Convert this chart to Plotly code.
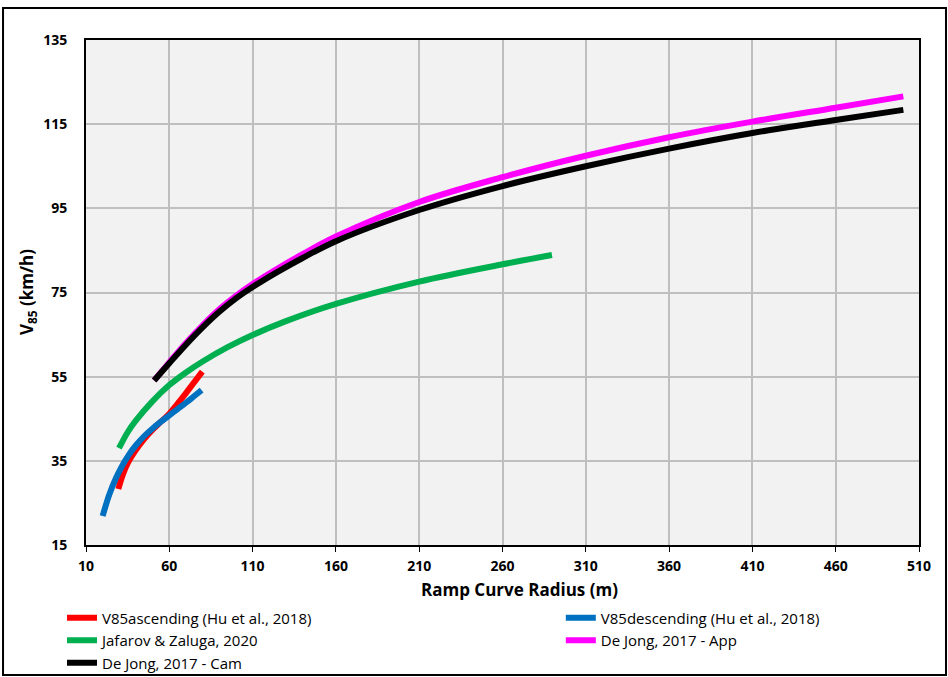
import plotly.graph_objects as go

# Ramp curve radius (m) and V85 (km/h)
red_r = [29.4, 32, 35, 40, 45, 50, 55, 60, 65, 70, 75, 79.8]
red_v = [28.3, 31.6, 34.4, 37.6, 40.2, 42.4, 44.3, 46.2, 48.6, 51.1, 53.7, 56.2]

blue_r = [20, 24, 28, 32, 36, 40, 45, 50, 55, 60, 65, 70, 75, 79.4]
blue_v = [21.9, 27.0, 30.9, 34.0, 36.6, 38.7, 40.9, 42.7, 44.3, 45.8, 47.3, 48.8, 50.4, 51.8]

green_r = [29.8, 35, 40, 50, 60, 70, 80, 95, 110, 130, 160, 210, 260, 289.7]
green_v = [38.0, 41.8, 44.6, 49.2, 53.0, 56.0, 58.6, 62.0, 64.9, 68.2, 72.3, 77.6, 81.7, 83.9]

mag_r = [50.9, 60, 70, 80, 90, 100, 110, 125, 140, 160, 210, 260, 310, 360, 410, 460, 500.6]
mag_v = [54.1, 58.4, 63.0, 67.2, 71.0, 74.2, 77.0, 80.7, 84.1, 88.3, 96.5, 102.4, 107.5, 111.9, 115.6, 118.9, 121.6]

blk_r = [50.9, 60, 70, 80, 90, 100, 110, 125, 140, 160, 210, 260, 310, 360, 410, 460, 500.6]
blk_v = [54.1, 58.2, 62.6, 66.7, 70.4, 73.6, 76.3, 79.9, 83.2, 87.2, 94.6, 100.3, 105.0, 109.2, 112.9, 116.0, 118.4]

x_ticks = [10, 60, 110, 160, 210, 260, 310, 360, 410, 460, 510]
y_ticks = [15, 35, 55, 75, 95, 115, 135]

series = [
    ("V85ascending (Hu et al., 2018)", red_r, red_v, "#FF0000", "legend"),
    ("V85descending (Hu et al., 2018)", blue_r, blue_v, "#0070C0", "legend2"),
    ("Jafarov & Zaluga, 2020", green_r, green_v, "#00B050", "legend"),
    ("De Jong, 2017 - App", mag_r, mag_v, "#FF00FF", "legend2"),
    ("De Jong, 2017 - Cam", blk_r, blk_v, "#000000", "legend"),
]

FONT = "Open Sans, Roboto, Arial, sans-serif"

fig = go.Figure()
for name, xs, ys, col, leg in series:
    fig.add_trace(go.Scatter(x=xs, y=ys, name=name, mode="lines", legend=leg,
                             line=dict(color=col, width=6, shape="spline", smoothing=1.0)))

leg_common = dict(orientation="v", xanchor="left", yanchor="top", bgcolor="rgba(0,0,0,0)",
                  font=dict(family=FONT, size=15, color="black"), itemwidth=30,
                  tracegroupgap=0, borderwidth=0)

fig.update_layout(
    width=948, height=677,
    margin=dict(l=86, r=29, t=40, b=132, autoexpand=False),
    paper_bgcolor="white",
    plot_bgcolor="#F2F2F2",
    font=dict(family=FONT, color="black", size=14),
    showlegend=True,
    legend=dict(x=-0.0288, y=-0.112, **leg_common),
    legend2=dict(x=0.570, y=-0.112, **leg_common),
    xaxis=dict(range=[10, 510], tickvals=x_ticks, ticktext=[f"<b>{v}</b>" for v in x_ticks],
               showgrid=True, gridcolor="#BFBFBF", gridwidth=1.5,
               showline=True, linecolor="black", linewidth=2, mirror=True,
               ticks="outside", ticklen=5, tickcolor="black", zeroline=False,
               ticklabelstandoff=2,
               tickfont=dict(family=FONT, size=14, color="black")),
    yaxis=dict(range=[15, 135], tickvals=y_ticks, ticktext=[f"<b>{v}</b>" for v in y_ticks],
               showgrid=True, gridcolor="#BFBFBF", gridwidth=1.5,
               showline=True, linecolor="black", linewidth=2, mirror=True,
               ticks="", zeroline=False, ticklabelstandoff=14,
               tickfont=dict(family=FONT, size=14, color="black")),
)

fig.add_annotation(text="<b>Ramp Curve Radius (m)</b>", xref="paper", yref="paper",
                   x=0.521, y=-0.089, xanchor="center", yanchor="middle", showarrow=False,
                   font=dict(family=FONT, size=17, color="black"))
fig.add_annotation(text="<b>V<sub>85</sub> (km/h)</b>", xref="paper", yref="paper",
                   x=-0.0702, y=0.5, xanchor="center", yanchor="middle", showarrow=False,
                   textangle=-90, font=dict(family=FONT, size=17, color="black"))

fig.add_shape(type="rect", xref="paper", yref="paper",
              x0=-0.0996, x1=1.0324, y0=-0.2574, y1=1.0634,
              line=dict(color="black", width=2), fillcolor="rgba(0,0,0,0)", layer="below")

fig.write_html("out.html")
